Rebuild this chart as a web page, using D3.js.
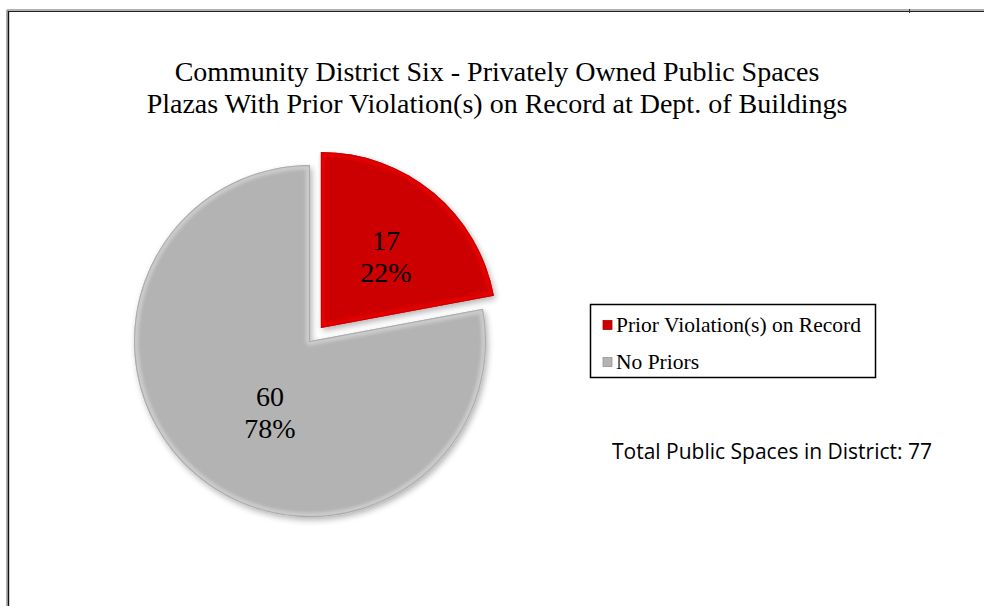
<!DOCTYPE html>
<html><head><meta charset="utf-8">
<script src="https://cdn.jsdelivr.net/npm/d3@7"></script>
<style>html,body{margin:0;padding:0;background:#fff;}svg{display:block;}</style>
</head><body>
<svg id="c" width="984" height="606"></svg>
<script>
const categories = ["Prior Violation(s) on Record", "No Priors"];
const values = [17, 60];
const colors = ["#CC0000", "#B3B3B3"];
const titleLines = ["Community District Six - Privately Owned Public Spaces",
                    "Plazas With Prior Violation(s) on Record at Dept. of Buildings"];
const totalNote = "Total Public Spaces in District: 77";

const svg = d3.select("#c");
const W = 984, H = 606;
const serif = "'Liberation Serif','Times New Roman',serif";

// frame
svg.append("line").attr("x1",7).attr("x2",W).attr("y1",10).attr("y2",10).attr("stroke","#999").attr("stroke-width",1.5);
svg.append("line").attr("x1",8).attr("x2",W).attr("y1",11.5).attr("y2",11.5).attr("stroke","#222").attr("stroke-width",1.2);
svg.append("line").attr("x1",7).attr("x2",7).attr("y1",10).attr("y2",H).attr("stroke","#999").attr("stroke-width",1.5);
svg.append("line").attr("x1",8.5).attr("x2",8.5).attr("y1",11).attr("y2",H).attr("stroke","#111").attr("stroke-width",1.4);
svg.append("line").attr("x1",909.5).attr("x2",909.5).attr("y1",9).attr("y2",13).attr("stroke","#333").attr("stroke-width",1);

// title
const title = svg.append("text").attr("text-anchor","middle")
  .attr("font-family",serif).attr("font-size",28).attr("fill","#000");
titleLines.forEach((t,i)=>title.append("tspan").attr("x",497).attr("y",81+i*32).text(t));

// defs
const defs = svg.append("defs");
const sh = defs.append("filter").attr("id","shadow").attr("x","-20%").attr("y","-20%").attr("width","140%").attr("height","140%");
sh.append("feGaussianBlur").attr("in","SourceAlpha").attr("stdDeviation",3).attr("result","b");
sh.append("feOffset").attr("in","b").attr("dx",2).attr("dy",3).attr("result","o");
sh.append("feComponentTransfer").attr("in","o").attr("result","o2").append("feFuncA").attr("type","linear").attr("slope",0.3);
const mg = sh.append("feMerge"); mg.append("feMergeNode").attr("in","o2"); mg.append("feMergeNode").attr("in","SourceGraphic");
const blur = defs.append("filter").attr("id","soft");
blur.append("feGaussianBlur").attr("stdDeviation",1.5);

// pie
const cx = 310, cy = 341, R = 176;
const pie = d3.pie().value(d=>d).sort(null);
const arcs = pie(values);
const arc = d3.arc().innerRadius(0).outerRadius(R);
const explode = [17, 0];
const g = svg.append("g").attr("transform",`translate(${cx},${cy})`);

arcs.forEach((a,i)=>{
  const mid = (a.startAngle + a.endAngle)/2;
  const dx = Math.sin(mid)*explode[i], dy = -Math.cos(mid)*explode[i];
  const sg = g.append("g").attr("transform",`translate(${dx},${dy})`);
  const id = "clip"+i;
  defs.append("clipPath").attr("id",id).append("path").attr("d",arc(a)).attr("transform",`translate(${cx+dx},${cy+dy})`);
  const dark = d3.color(colors[i]).darker(0.5);
  const light = d3.color(colors[i]).brighter(0.6);
  sg.append("path").attr("d",arc(a)).attr("fill",colors[i]).attr("filter","url(#shadow)");
  const bev = svg.append("g").attr("clip-path",`url(#${id})`)
    .append("g").attr("transform",`translate(${cx+dx},${cy+dy})`);
  bev.append("path").attr("d",arc(a)).attr("fill","none").attr("stroke",light).attr("stroke-width",9).attr("stroke-opacity",0.55).attr("filter","url(#soft)").attr("stroke-linejoin","round");
  bev.append("path").attr("d",arc(a)).attr("fill","none").attr("stroke",dark).attr("stroke-width",2).attr("stroke-opacity",0.6);
});

// labels
const total = d3.sum(values);
const labelPos = [[386, 241], [270, 397]];
arcs.forEach((a,i)=>{
  const t = g.append("text").attr("text-anchor","middle")
    .attr("font-family",serif).attr("font-size",28).attr("fill","#000");
  t.append("tspan").attr("x",labelPos[i][0]-cx).attr("y",labelPos[i][1]-cy+9).text(a.data);
  t.append("tspan").attr("x",labelPos[i][0]-cx).attr("y",labelPos[i][1]-cy+41).text(Math.round(a.data/total*100)+"%");
});

// legend
const lg = svg.append("g");
lg.append("rect").attr("x",590.5).attr("y",304.5).attr("width",285).attr("height",73).attr("fill","#fff").attr("stroke","#000").attr("stroke-width",1.5);
categories.forEach((c,i)=>{
  const y = 325 + i*37;
  lg.append("rect").attr("x",603).attr("y",y-4.5).attr("width",9).attr("height",9).attr("fill",colors[i]).attr("stroke",d3.color(colors[i]).darker(0.5)).attr("stroke-width",0.8);
  lg.append("text").attr("x",616).attr("y",y+7).attr("font-family",serif).attr("font-size",21.5).attr("fill","#000").text(c);
});

// note
svg.append("text").attr("x",612).attr("y",459).attr("font-family","'Open Sans','Liberation Sans',sans-serif").attr("font-size",21).attr("fill","#000").text(totalNote);
</script>
</body></html>
